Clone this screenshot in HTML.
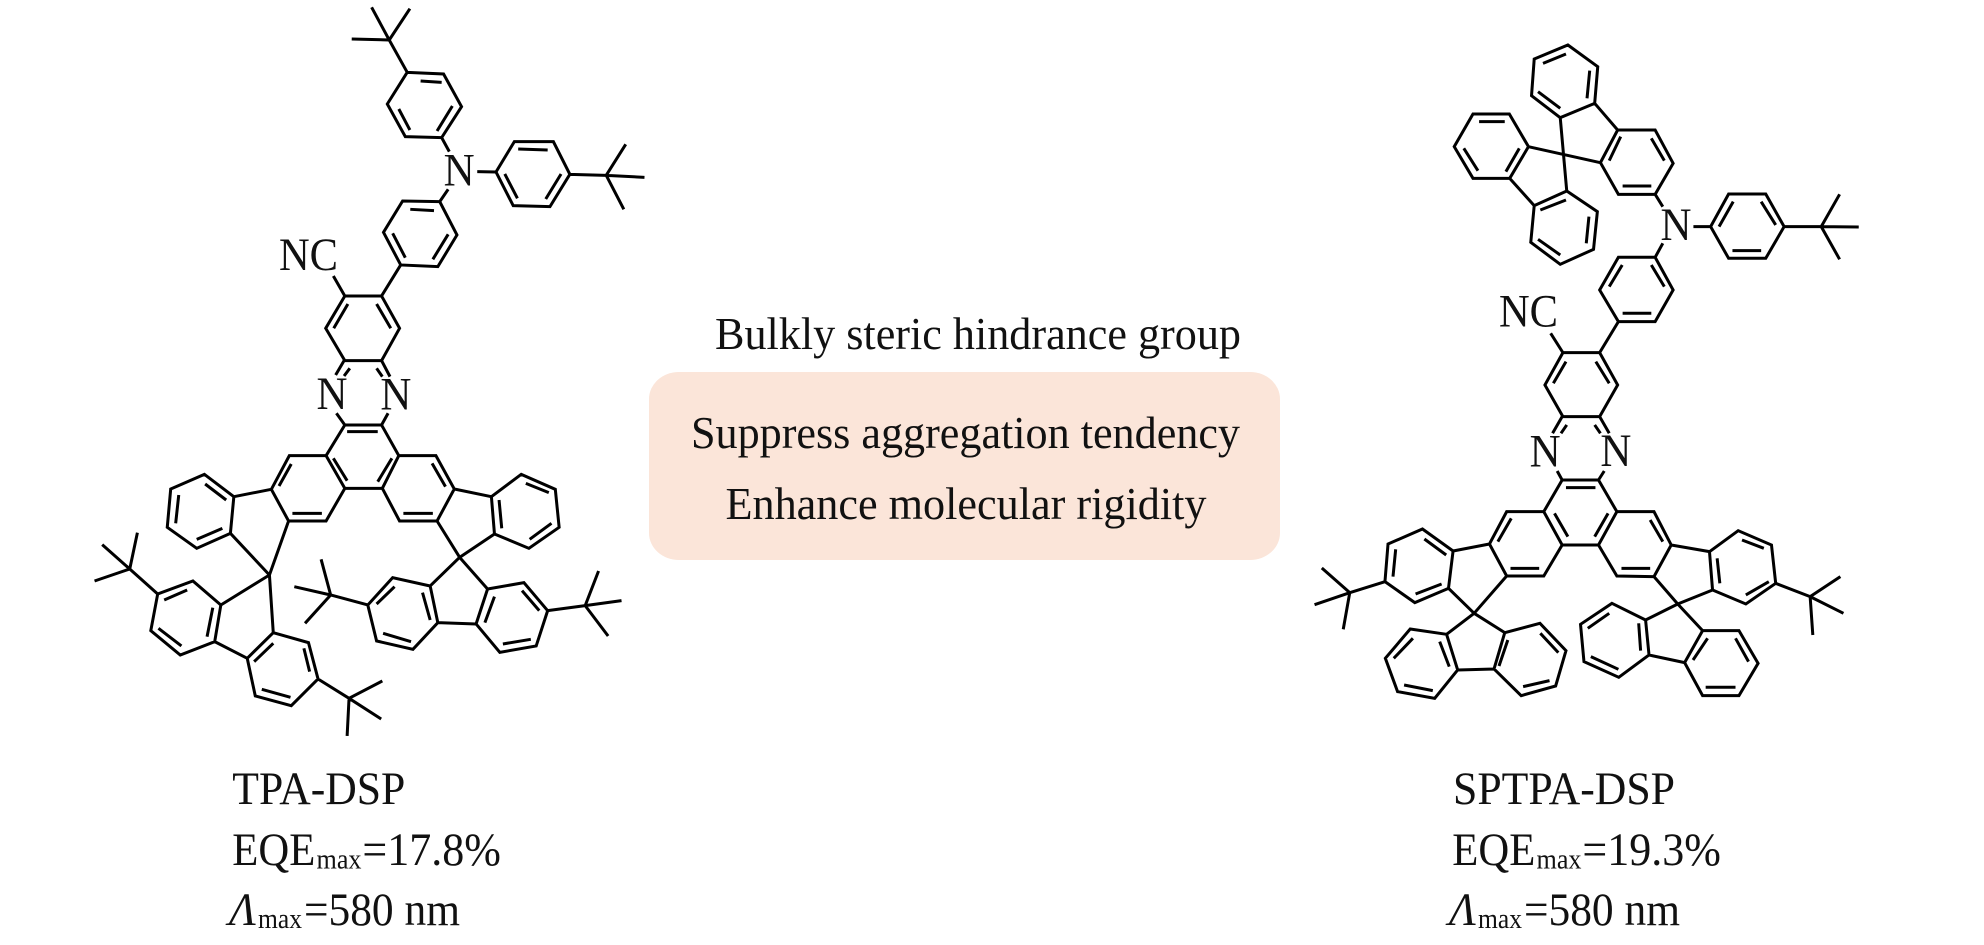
<!DOCTYPE html>
<html><head><meta charset="utf-8">
<style>
html,body{margin:0;padding:0;background:#fff;width:1984px;height:945px;overflow:hidden}
svg{display:block}
path{fill:none;stroke:#000;stroke-width:3;stroke-linejoin:miter;vector-effect:non-scaling-stroke}
text{font-family:"Liberation Serif","Times New Roman",serif;font-size:43px;fill:#111}
.s{font-size:26px}
.c{font-size:42px}
</style></head>
<body>
<svg width="1984" height="945" viewBox="0 0 1984 945" xmlns="http://www.w3.org/2000/svg">
<rect x="649" y="372" width="631" height="188" rx="30" ry="27" fill="#fbe5d9"/>

<g transform="translate(80,0) scale(0.3827,0.3333)">
<path d="M808 120L710 117M808 120L762 22M808 120L862 26M808 120L855 217
M855 217L950 222L997 320L945 413L850 410L803 312ZM890 243L945 247M833 327L862 390M973 318L933 393
M945 413L965 455M962 568L940 605M1038 515L1087 516
M1087 516L1135 425L1237 425L1280 523L1228 620L1132 617ZM1145 447L1222 450M1110 522L1143 595M1257 522L1217 597
M1280 523L1375 526M1375 526L1475 532M1375 526L1426 433M1375 526L1421 628
M940 605L843 603L793 697L838 795L935 800L985 705ZM863 628L925 632M817 700L850 773M962 703L922 778
M838 795L788 888
M692 888L788 888L835 985L788 1082L692 1082L642 985ZM700 912L663 985M775 912L812 985M662 828L692 888
M690 1082L668 1125M705 1105L690 1128M788 1082L810 1130M775 1105L790 1130
M670 1240L692 1275M805 1240L788 1275"/>
</g>

<g transform="translate(80,440) scale(0.3827,0.3333)">
<path d="M692 -45L788 -45L833 47L790 145L692 145L643 47ZM698 -25L778 -25M662 55L698 122M815 55L778 125
M643 47L547 47L500 148L545 243L643 243L692 145M552 72L520 138M555 220L632 220
M833 47L930 47L978 147L933 243L835 243L790 145M920 70L955 140M845 220L922 220
M402 170L325 103L237 147L228 262L305 325L393 280ZM382 180L327 132M258 165L250 250M305 298L372 265
M500 148L402 170M393 280L495 405M545 243L495 405
M495 405L368 495M495 405L505 578
M368 495L295 423L203 462L185 572L262 645L352 605ZM347 503L332 590M280 450L220 480M205 565L265 618
M352 605L437 655
M505 578L437 655L458 768L552 797L622 717L597 608ZM505 610L455 665M475 748L550 772M600 695L585 625
M622 717L703 775M703 775L790 723M703 775L787 837M703 775L698 888
M203 462L130 387M130 387L58 314M130 387L38 423M130 387L150 278
M1075 170L1153 103L1242 148L1252 262L1173 325L1083 282ZM1165 130L1225 158M1232 250L1175 298M1095 180L1102 265
M978 147L1075 170M933 243L992 352M1083 282L992 352
M992 352L915 438M992 352L1065 447
M915 438L817 413L752 495L775 603L870 628L935 548ZM895 458L915 540M822 440L775 492M792 580L865 605
M935 548L1035 552
M1065 447L1160 428L1222 512L1192 618L1097 637L1035 552ZM1083 470L1058 548M1155 452L1200 512M1105 612L1178 598
M752 495L655 465M655 465L560 440M655 465L630 358M655 465L588 550
M1222 512L1320 497M1320 497L1415 482M1320 497L1355 393M1320 497L1380 588"/>
</g>

<g transform="translate(1300,30) scale(0.3827,0.3333)">
<path d="M680 263L605 197L612 87L700 45L778 110L770 220ZM622 185L680 235M635 100L695 72M757 122L750 205
M770 220L830 300
M830 300L928 300L975 400L928 493L832 493L785 398ZM838 320L808 392M918 325L952 392M843 468L918 468
M680 263L697 483M597 350L785 398
M597 350L547 252L452 252L403 350L452 445L548 445ZM468 275L535 275M428 355L465 422M573 355L538 425
M548 445L612 527
M697 483L612 527L603 637L680 703L767 658L777 545ZM695 510L628 540M622 628L680 675M748 640L755 560
M928 493L948 530M948 640L928 682M1028 590L1073 590
M1073 590L1120 492L1217 492L1265 590L1217 685L1120 685ZM1095 590L1132 515M1205 515L1243 585M1130 662L1205 662
M1265 590L1362 590M1362 590L1460 591M1362 590L1410 493M1362 590L1410 688
M928 682L832 682L783 780L832 875L928 875L975 780ZM842 705L808 770M918 705L952 770M843 850L918 850
M832 875L783 968
M783 968L687 968L640 1065L687 1160L783 1160L830 1065ZM695 995L662 1060M773 995L808 1060
M655 910L687 968
M685 1160L660 1210M697 1185L682 1210M783 1160L808 1210M770 1185L785 1210"/>
</g>

<g transform="translate(1300,440) scale(0.3827,0.3333)">
<path d="M685 120L672 93M780 120L795 93
M685 120L780 120L828 215L780 315L685 315L637 215ZM695 143L772 143M665 220L700 290M805 220L770 290
M637 215L540 215L495 312L540 408L637 408L685 315M552 235L517 305M550 385L625 385
M828 215L925 215L970 315L925 410L828 408L780 315M915 240L948 305M840 385L915 385
M400 333L320 267L230 312L222 425L300 488L388 445ZM382 345L325 297M250 328L243 410M302 462L370 432
M495 312L400 333
M222 425L130 458M130 458L38 494M130 458L57 384M130 458L113 568
M388 445L455 520M540 408L455 520M455 520L383 583M455 520L535 578
M383 583L288 567L223 655L255 755L352 775L412 690ZM365 605L390 680M295 595L245 655M272 735L347 752
M412 690L507 687
M535 578L627 550L695 632L668 738L578 767L507 687ZM543 600L520 678M628 580L675 638M583 740L652 722
M1070 335L1145 272L1232 315L1243 430L1165 492L1078 450ZM1155 300L1212 325M1225 425L1165 465M1090 355L1097 430
M970 315L1070 335
M1243 430L1333 470M1333 470L1412 410M1333 470L1420 520M1333 470L1340 585
M925 410L987 492M1078 450L987 492M987 492L903 540M987 492L1052 572
M903 540L815 490L733 553L742 665L833 712L912 645ZM885 550L890 632M808 520L752 565M760 650L832 688
M912 645L1005 668
M1052 572L1147 572L1197 670L1147 767L1052 767L1005 668ZM1065 595L1027 660M1138 595L1172 665M1060 742L1138 742"/>
</g>

<!-- atom labels, left molecule -->
<text transform="translate(443.6,185.7) scale(1,1.08)" textLength="31" lengthAdjust="spacingAndGlyphs">N</text>
<text transform="translate(279,270) scale(1,1.08)" textLength="59" lengthAdjust="spacingAndGlyphs">NC</text>
<text transform="translate(316.5,409) scale(1,1.08)" textLength="31" lengthAdjust="spacingAndGlyphs">N</text>
<text transform="translate(380.4,409.3) scale(1,1.08)" textLength="31" lengthAdjust="spacingAndGlyphs">N</text>

<!-- atom labels, right molecule -->
<text transform="translate(1660.5,240) scale(1,1.08)" textLength="31" lengthAdjust="spacingAndGlyphs">N</text>
<text transform="translate(1499,326.7) scale(1,1.08)" textLength="59" lengthAdjust="spacingAndGlyphs">NC</text>
<text transform="translate(1529.6,466.7) scale(1,1.08)" textLength="31" lengthAdjust="spacingAndGlyphs">N</text>
<text transform="translate(1600.4,466) scale(1,1.08)" textLength="31" lengthAdjust="spacingAndGlyphs">N</text>

<!-- centre text -->
<text class="c" transform="translate(715,349) scale(1,1.08)" textLength="526" lengthAdjust="spacingAndGlyphs">Bulkly steric hindrance group</text>
<text class="c" transform="translate(691,448) scale(1,1.08)" textLength="549" lengthAdjust="spacingAndGlyphs">Suppress aggregation tendency</text>
<text class="c" transform="translate(725.5,519) scale(1,1.08)" textLength="481" lengthAdjust="spacingAndGlyphs">Enhance molecular rigidity</text>

<!-- left caption -->
<text transform="translate(232.3,804) scale(1,1.08)" textLength="173" lengthAdjust="spacingAndGlyphs">TPA-DSP</text>
<text transform="translate(232.3,865) scale(1,1.08)" textLength="83" lengthAdjust="spacingAndGlyphs">EQE</text>
<text class="s" transform="translate(316.5,868.3) scale(1,1.08)" textLength="45" lengthAdjust="spacingAndGlyphs">max</text>
<text transform="translate(362.4,865) scale(1,1.08)" textLength="138.5" lengthAdjust="spacingAndGlyphs">=17.8%</text>
<text transform="translate(229,925) scale(1,1.08)" font-style="italic" textLength="27" lengthAdjust="spacingAndGlyphs">Λ</text>
<text class="s" transform="translate(258,928) scale(1,1.08)" textLength="44" lengthAdjust="spacingAndGlyphs">max</text>
<text transform="translate(304,925) scale(1,1.08)" textLength="156" lengthAdjust="spacingAndGlyphs">=580 nm</text>

<!-- right caption -->
<text transform="translate(1453,804) scale(1,1.08)" textLength="222" lengthAdjust="spacingAndGlyphs">SPTPA-DSP</text>
<text transform="translate(1452.3,865) scale(1,1.08)" textLength="83" lengthAdjust="spacingAndGlyphs">EQE</text>
<text class="s" transform="translate(1536.5,868.3) scale(1,1.08)" textLength="45" lengthAdjust="spacingAndGlyphs">max</text>
<text transform="translate(1582.4,865) scale(1,1.08)" textLength="138.5" lengthAdjust="spacingAndGlyphs">=19.3%</text>
<text transform="translate(1449,925) scale(1,1.08)" font-style="italic" textLength="27" lengthAdjust="spacingAndGlyphs">Λ</text>
<text class="s" transform="translate(1478,928) scale(1,1.08)" textLength="44" lengthAdjust="spacingAndGlyphs">max</text>
<text transform="translate(1524,925) scale(1,1.08)" textLength="156" lengthAdjust="spacingAndGlyphs">=580 nm</text>
</svg>
</body></html>
